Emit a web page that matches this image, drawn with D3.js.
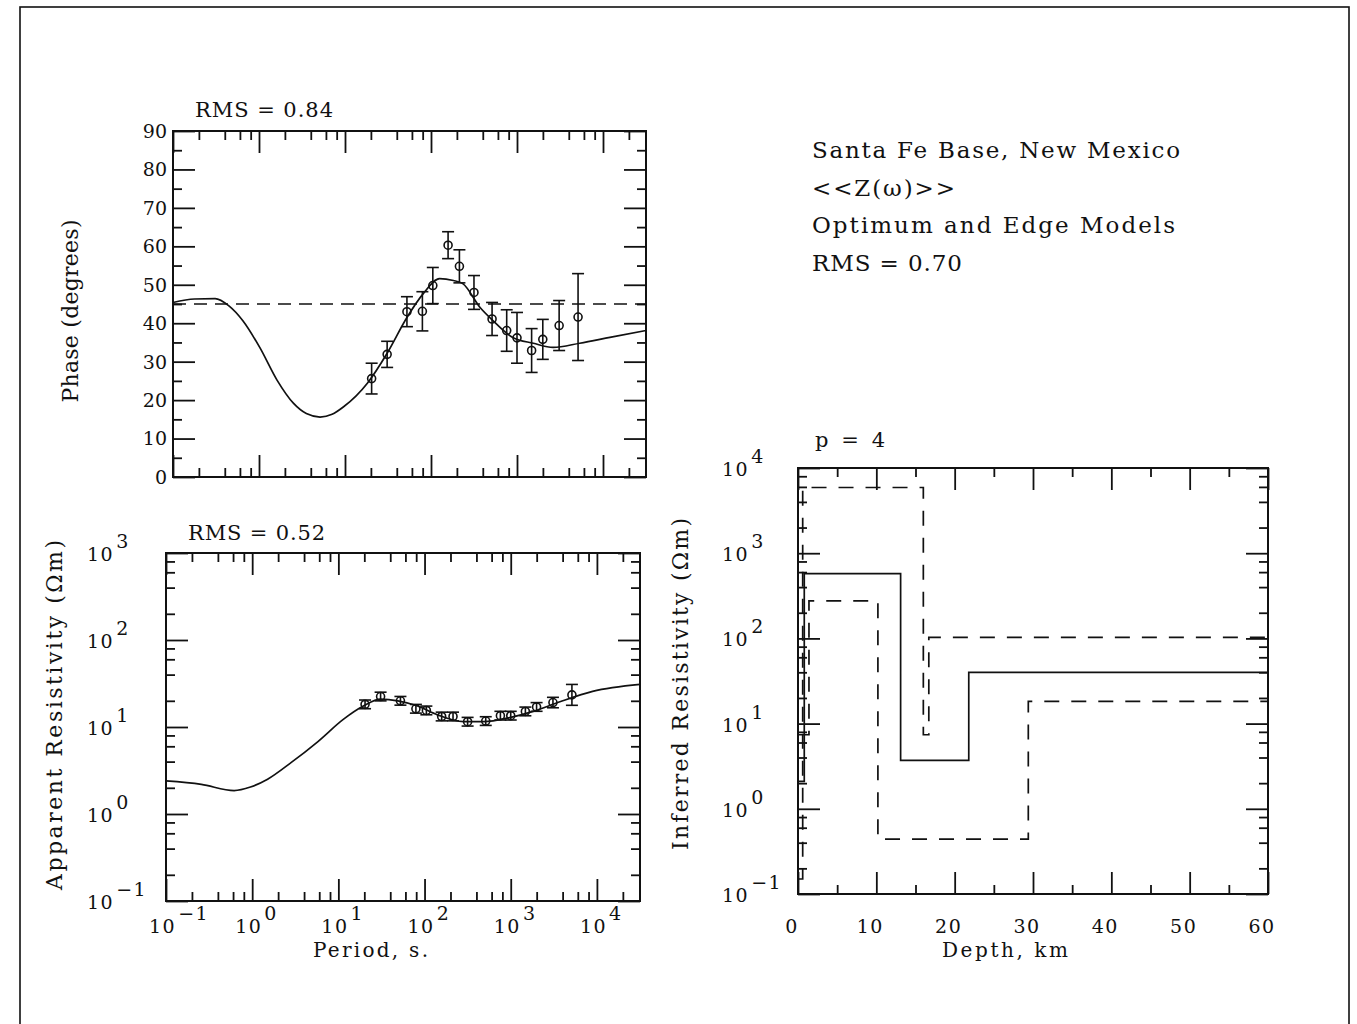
<!DOCTYPE html>
<html>
<head>
<meta charset="utf-8">
<script src="https://cdn.jsdelivr.net/npm/d3@7"></script>
<style>
  body { margin: 0; background: #fff; }
  svg text { font-family: "DejaVu Serif", serif; fill: #111; }
</style>
</head>
<body>
<svg id="chart" width="1357" height="1024"></svg>
<script>

// ---- data ----

// observed periods (s), shared by phase and apparent resistivity
const obsPeriod = [20.4, 30.9, 52.5, 79.4, 105, 158, 214, 316, 513, 759, 1000, 1479, 1995, 3090, 5129];
const obsPhase = [25.6, 31.9, 43.0, 43.1, 49.8, 60.3, 54.8, 48.0, 41.1, 38.1, 36.2, 32.9, 35.8, 39.4, 41.6];
const obsPhaseErr = [4.0, 3.4, 3.9, 5.1, 4.7, 3.5, 4.3, 4.4, 4.3, 5.4, 6.6, 5.7, 5.2, 6.5, 11.3];
const obsRho = [18.2, 22.4, 20.0, 16.2, 15.5, 13.2, 13.2, 11.5, 11.7, 13.5, 13.5, 15.1, 17.0, 19.1, 23.4];
const obsRhoErrLog = [0.05, 0.05, 0.05, 0.05, 0.05, 0.05, 0.05, 0.05, 0.05, 0.05, 0.05, 0.05, 0.05, 0.06, 0.12];

// model response curves
const phaseCurvePeriod = [0.1, 0.178, 0.309, 0.447, 0.646, 1.02, 1.62, 2.51, 3.55, 5.13, 7.08, 9.55, 18.2, 30.9, 52.5, 81.3, 126, 182, 234, 372, 525, 891, 1549, 2630, 5370, 12020, 31623];
const phaseCurve = [45.4, 46.3, 46.4, 44.5, 40.7, 33.7, 25.2, 19.2, 16.5, 15.6, 16.3, 18.2, 24.4, 32.2, 41.5, 47.7, 51.6, 51.1, 50.3, 44.1, 40.7, 36.3, 34.8, 33.7, 34.8, 36.3, 38.1];
const phaseRef = 45;

const rhoCurvePeriod = [0.1, 0.257, 0.617, 0.955, 1.51, 2.82, 5.75, 11.5, 19.5, 30.9, 49.0, 83.2, 141, 282, 479, 1000, 1820, 3715, 8913, 31623];
const rhoCurve = [2.40, 2.19, 1.86, 2.04, 2.51, 3.89, 6.76, 12.3, 17.4, 20.9, 20.0, 17.4, 13.8, 11.5, 11.5, 12.9, 15.1, 19.5, 25.7, 30.9];

// layered models: top depth of each layer (km) and its resistivity (ohm m)
const optDepth = [0, 0.8, 13.1, 21.8];
const optRho = [2.1, 575, 3.7, 40];
const upperDepth = [0, 0.6, 16.0, 16.7];
const upperRho = [0.15, 5900, 7.4, 103];
const lowerDepth = [0, 1.4, 10.2, 29.4];
const lowerRho = [7.4, 275, 0.44, 18.2];
const maxDepth = 60;

// tick values
const periodMajor = [0.1, 1, 10, 100, 1000, 10000];
const periodExp = ["\u22121", "0", "1", "2", "3", "4"];
const phaseMajor = [0, 10, 20, 30, 40, 50, 60, 70, 80, 90];
const phaseMinor = [5, 15, 25, 35, 45, 55, 65, 75, 85];
const rhoMajor = [0.1, 1, 10, 100, 1000];
const rhoExp = ["\u22121", "0", "1", "2", "3"];
const modelRhoMajor = [0.1, 1, 10, 100, 1000, 10000];
const modelRhoExp = ["\u22121", "0", "1", "2", "3", "4"];
const depthMajor = [0, 10, 20, 30, 40, 50, 60];
const depthMinor = [5, 15, 25, 35, 45, 55];

const infoLines = ["Santa Fe Base, New Mexico", "<<Z(\u03c9)>>", "Optimum and Edge Models", "RMS = 0.70"];
const infoWidths = [368, 143, 363, 150];

// ---- drawing ----

const svg = d3.select("#chart");
const ink = "#111";
const bigTick = 22, smallTick = 9;

// page frame
svg.append("rect")
  .attr("x", 20).attr("y", 7).attr("width", 1329).attr("height", 1040)
  .attr("fill", "none").attr("stroke", ink).attr("stroke-width", 1.6);

// minor ticks at 2,4,6,8 per decade inside a log domain
function logMinor(lo, hi) {
  const out = [];
  for (let e = Math.floor(Math.log10(lo)); e < Math.ceil(Math.log10(hi)); e++) {
    [2, 4, 6, 8].forEach(k => {
      const v = k * Math.pow(10, e);
      if (v > lo && v < hi) out.push(v);
    });
  }
  return out;
}

function styleAxis(g) {
  g.select(".domain").remove();
  g.selectAll(".tick line").attr("stroke", ink).attr("stroke-width", 1.8);
  g.selectAll(".tick text").remove();
}

// inward ticks on all four sides
function frameTicks(x, y, xMajor, xMinor, yMajor, yMinor) {
  const [x0, x1] = x.range();
  const [y1, y0] = y.range();
  const sides = [
    [d3.axisBottom, x, `translate(0,${y1})`, xMajor, xMinor],
    [d3.axisTop, x, `translate(0,${y0})`, xMajor, xMinor],
    [d3.axisLeft, y, `translate(${x0},0)`, yMajor, yMinor],
    [d3.axisRight, y, `translate(${x1},0)`, yMajor, yMinor]
  ];
  sides.forEach(([ax, sc, tr, maj, min]) => {
    svg.append("g").attr("transform", tr)
      .call(ax(sc).tickValues(maj).tickSize(-bigTick).tickFormat(""))
      .call(styleAxis);
    svg.append("g").attr("transform", tr)
      .call(ax(sc).tickValues(min).tickSize(-smallTick).tickFormat(""))
      .call(styleAxis);
  });
  svg.append("rect")
    .attr("x", x0).attr("y", y0).attr("width", x1 - x0).attr("height", y1 - y0)
    .attr("fill", "none").attr("stroke", ink).attr("stroke-width", 2);
}

function powLabel(x, y, exp, size) {
  const t = svg.append("text").attr("x", x).attr("y", y)
    .attr("font-size", size).attr("letter-spacing", 1.5);
  t.append("tspan").text("10");
  t.append("tspan").attr("dy", -13).attr("dx", 2).text(exp);
}

function label(x, y, txt, size, len) {
  return svg.append("text").attr("x", x).attr("y", y).attr("font-size", size)
    .attr("textLength", len).attr("lengthAdjust", "spacing").text(txt);
}

function vlabel(cx, cy, txt, size, len) {
  return svg.append("text").attr("transform", `translate(${cx},${cy}) rotate(-90)`)
    .attr("text-anchor", "middle").attr("font-size", size)
    .attr("textLength", len).attr("lengthAdjust", "spacing").text(txt);
}

function errorBars(x, y, pts) {
  const g = svg.append("g").attr("fill", "none").attr("stroke", ink).attr("stroke-width", 1.6);
  pts.forEach(d => {
    const cx = x(d.p);
    g.append("line").attr("x1", cx).attr("x2", cx).attr("y1", y(d.lo)).attr("y2", y(d.hi));
    g.append("line").attr("x1", cx - 6).attr("x2", cx + 6).attr("y1", y(d.lo)).attr("y2", y(d.lo));
    g.append("line").attr("x1", cx - 6).attr("x2", cx + 6).attr("y1", y(d.hi)).attr("y2", y(d.hi));
    g.append("circle").attr("cx", cx).attr("cy", y(d.v)).attr("r", 4);
  });
}

// ---- phase panel ----
const xP = d3.scaleLog().domain([0.1, 31623]).range([173, 646]);
const yP = d3.scaleLinear().domain([0, 90]).range([477, 131]);
const periodMinor = logMinor(0.1, 31623);

frameTicks(xP, yP, periodMajor, periodMinor, phaseMajor, phaseMinor);

svg.append("g").selectAll("text").data(phaseMajor).join("text")
  .attr("x", 167).attr("y", d => yP(d)).attr("dy", "0.36em")
  .attr("text-anchor", "end").attr("font-size", 19).text(d => d);

svg.append("line")
  .attr("x1", xP.range()[0]).attr("x2", xP.range()[1])
  .attr("y1", yP(phaseRef)).attr("y2", yP(phaseRef))
  .attr("stroke", ink).attr("stroke-width", 1.6).attr("stroke-dasharray", "13,8");

const phaseLine = d3.line().x(d => xP(d[0])).y(d => yP(d[1])).curve(d3.curveMonotoneX);
svg.append("path")
  .attr("d", phaseLine(d3.zip(phaseCurvePeriod, phaseCurve)))
  .attr("fill", "none").attr("stroke", ink).attr("stroke-width", 1.7);

errorBars(xP, yP, obsPeriod.map((p, i) => ({
  p, v: obsPhase[i], lo: obsPhase[i] - obsPhaseErr[i], hi: obsPhase[i] + obsPhaseErr[i]
})));

label(195, 117, "RMS = 0.84", 21, 138);
vlabel(78, 311, "Phase (degrees)", 22, 183);

// ---- apparent resistivity panel ----
const xR = d3.scaleLog().domain([0.1, 31623]).range([166, 640]);
const yR = d3.scaleLog().domain([0.1, 1000]).range([901, 553]);

frameTicks(xR, yR, periodMajor, periodMinor, rhoMajor, logMinor(0.1, 1000));

rhoMajor.forEach((v, i) => powLabel(87, yR(v) + 8, rhoExp[i], 19));
periodMajor.forEach((v, i) => powLabel(xR(v) - 17, 933, periodExp[i], 19));

const rhoLine = d3.line().x(d => xR(d[0])).y(d => yR(d[1])).curve(d3.curveMonotoneX);
svg.append("path")
  .attr("d", rhoLine(d3.zip(rhoCurvePeriod, rhoCurve)))
  .attr("fill", "none").attr("stroke", ink).attr("stroke-width", 1.7);

errorBars(xR, yR, obsPeriod.map((p, i) => ({
  p, v: obsRho[i],
  lo: obsRho[i] / Math.pow(10, obsRhoErrLog[i]),
  hi: obsRho[i] * Math.pow(10, obsRhoErrLog[i])
})));

label(188, 540, "RMS = 0.52", 21, 137);
vlabel(62, 715, "Apparent Resistivity (\u03a9m)", 22, 350);
label(313, 957, "Period, s.", 20, 115);

// ---- model panel ----
const xM = d3.scaleLinear().domain([0, maxDepth]).range([798, 1268]);
const yM = d3.scaleLog().domain([0.1, 10000]).range([894, 468]);

frameTicks(xM, yM, depthMajor, depthMinor, modelRhoMajor, logMinor(0.1, 10000));

modelRhoMajor.forEach((v, i) => powLabel(722, yM(v) + 8, modelRhoExp[i], 19));
svg.append("g").selectAll("text").data(depthMajor).join("text")
  .attr("x", d => xM(d) - 6).attr("y", 933).attr("letter-spacing", 1.5)
  .attr("text-anchor", "middle").attr("font-size", 19).text(d => d);

const stepLine = d3.line().x(d => xM(d[0])).y(d => yM(d[1])).curve(d3.curveStepAfter);
function model(depth, rho, dash) {
  const pts = d3.zip(depth.concat([maxDepth]), rho.concat([rho[rho.length - 1]]));
  svg.append("path").attr("d", stepLine(pts))
    .attr("fill", "none").attr("stroke", ink).attr("stroke-width", 1.7)
    .attr("stroke-dasharray", dash);
}
model(upperDepth, upperRho, "15,12");
model(lowerDepth, lowerRho, "15,12");
model(optDepth, optRho, null);

label(815, 447, "p = 4", 21, 70);
vlabel(688, 684, "Inferred Resistivity (\u03a9m)", 22, 332);
label(942, 957, "Depth, km", 20, 126);

// ---- info block ----
infoLines.forEach((t, i) => label(812, 158 + i * 37.5, t, 23, infoWidths[i]));

</script>
</body>
</html>
